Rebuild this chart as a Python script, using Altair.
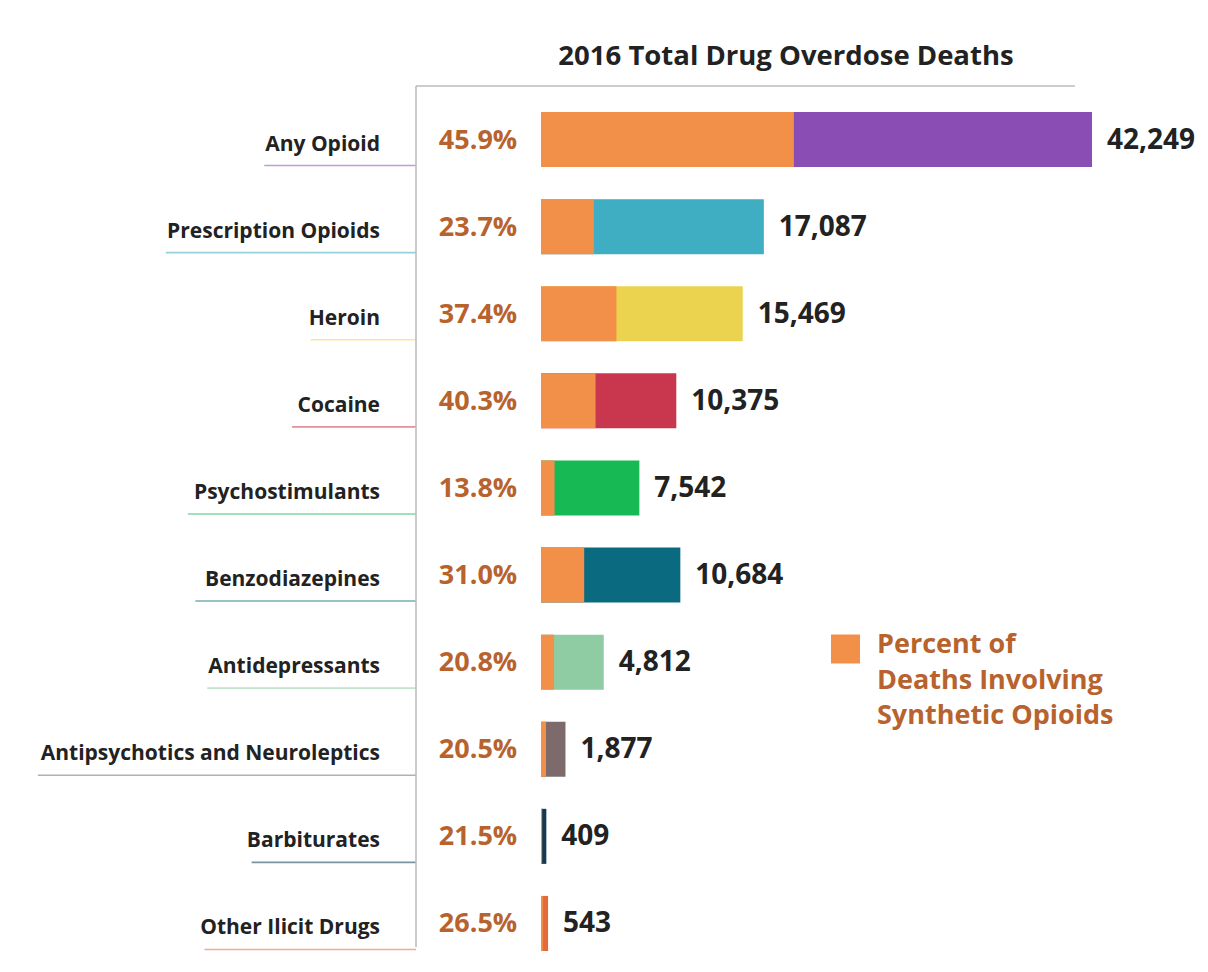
import altair as alt
import pandas as pd

# ---------------- data ----------------
drugs = ["Any Opioid", "Prescription Opioids", "Heroin", "Cocaine", "Psychostimulants",
         "Benzodiazepines", "Antidepressants", "Antipsychotics and Neuroleptics",
         "Barbiturates", "Other Ilicit Drugs"]
totals = [42249, 17087, 15469, 10375, 7542, 10684, 4812, 1877, 409, 543]
synthetic_pct = [45.9, 23.7, 37.4, 40.3, 13.8, 31.0, 20.8, 20.5, 21.5, 26.5]
bar_colors = ["#8a4db3", "#3fadc2", "#ecd34f", "#c9374f", "#17b955",
              "#0a6a80", "#8fcca3", "#7d6b6b", "#103a55", "#e46a3c"]
title_text = "2016 Total Drug Overdose Deaths"
legend_lines = ["Percent of", "Deaths Involving", "Synthetic Opioids"]

# ---------------- style ----------------
FONT = "Open Sans"
ORANGE = "#f2904a"
PCT_COLOR = "#b8622d"
TEXT_DARK = "#222222"
LINE_GRAY = "#bdbdbd"
LABEL_SIZE = 21
LABEL_RIGHT = 372
AXIS_X = 408


def text_width(s, size):
    w = 0.0
    for ch in s:
        if ch == " ":
            w += 0.25
        elif ch in "iljtfrI.,":
            w += 0.30
        elif ch in "mw":
            w += 0.85
        elif ch.isupper():
            w += 0.66
        else:
            w += 0.56
    return w * size * 1.09


df = pd.DataFrame({"drug": drugs, "total": totals, "pct": synthetic_pct})
df["synthetic"] = df["total"] * df["pct"] / 100.0
df["pct_label"] = df["pct"].map(lambda v: f"{v:.1f}%")
df["total_label"] = df["total"].map(lambda v: f"{v:,}")
df["label_left"] = df["drug"].map(lambda s: LABEL_RIGHT - text_width(s, LABEL_SIZE) - 2)

xs = alt.Scale(domain=[0, max(totals)], range=[533, 1084], nice=False, zero=True)
ys = alt.Scale(domain=drugs, range=[88, 959], paddingInner=0.368, paddingOuter=0.184)
Y = alt.Y("drug:N", scale=ys, axis=None, sort=drugs)
C = alt.Color("drug:N", scale=alt.Scale(domain=drugs, range=bar_colors), legend=None)

base = alt.Chart(df)

bars_total = base.mark_bar().encode(
    x=alt.X("total:Q", scale=xs, axis=None), y=Y, color=C)
bars_syn = base.mark_bar(color=ORANGE).encode(
    x=alt.X("synthetic:Q", scale=xs, axis=None), y=Y)

pct_text = base.mark_text(font=FONT, fontSize=27, fontWeight="bold", color=PCT_COLOR,
                          align="center", baseline="middle", dy=1).encode(
    x=alt.value(470), y=Y, text="pct_label:N")

cat_text = base.mark_text(font=FONT, fontSize=LABEL_SIZE, fontWeight="bold", color=TEXT_DARK,
                          align="right", baseline="middle", dy=5).encode(
    x=alt.value(LABEL_RIGHT), y=Y, text="drug:N")

val_text = base.mark_text(font=FONT, fontSize=28, fontWeight="bold", color=TEXT_DARK,
                          align="left", baseline="middle", dx=15, dy=1).encode(
    x=alt.X("total:Q", scale=xs, axis=None), y=Y, text="total_label:N")

underlines = base.mark_rule(strokeWidth=1.6, opacity=0.55, yOffset=26).encode(
    x=alt.X("label_left:Q", scale=None, axis=None), x2=alt.value(AXIS_X), y=Y, color=C)

one = pd.DataFrame({"t": [title_text], "lg": ["\n".join(legend_lines)]})

vline = alt.Chart(one).mark_rule(color=LINE_GRAY, strokeWidth=1.6).encode(
    x=alt.value(AXIS_X), y=alt.value(78), y2=alt.value(939))
hline = alt.Chart(one).mark_rule(color=LINE_GRAY, strokeWidth=1.6).encode(
    x=alt.value(AXIS_X), x2=alt.value(1067), y=alt.value(78))

title = alt.Chart(one).mark_text(font=FONT, fontSize=27.5, fontWeight="bold", color=TEXT_DARK,
                                 align="center", baseline="middle").encode(
    x=alt.value(778), y=alt.value(49), text="t:N")

legend_sq = alt.Chart(one).mark_square(color=ORANGE, size=841, opacity=1).encode(
    x=alt.value(837.5), y=alt.value(641))
legend_txt = alt.Chart(one).mark_text(font=FONT, fontSize=27, fontWeight="bold", color=PCT_COLOR,
                                      align="left", baseline="top", lineBreak="\n",
                                      lineHeight=35.5).encode(
    x=alt.value(869), y=alt.value(624), text="lg:N")

chart = alt.layer(
    bars_total, bars_syn, underlines, vline, hline, pct_text, cat_text, val_text,
    title, legend_sq, legend_txt
).resolve_scale(x="independent").properties(
    width=1192, height=956, padding=0,
    autosize=alt.AutoSizeParams(type="none"),
    background="white",
).configure_view(stroke=None)

chart.save("out.html", embed_options={"renderer": "svg", "actions": False})
